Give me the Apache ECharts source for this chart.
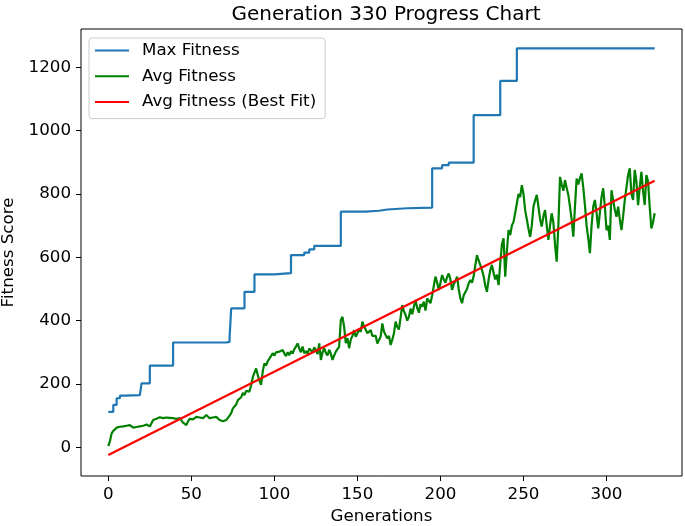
<!DOCTYPE html>
<html>
<head>
<meta charset="utf-8">
<script src="https://cdn.jsdelivr.net/npm/echarts@6/dist/echarts.min.js"></script>
<style>html,body{margin:0;padding:0;background:#fff;}#c{width:685px;height:526px;}</style>
</head>
<body>
<div id="c"></div>
<script>
var titleText = "Generation 330 Progress Chart";
var xTicks = [0, 50, 100, 150, 200, 250, 300];
var yTicks = [0, 200, 400, 600, 800, 1000, 1200];

// Max Fitness: generation where a new value starts, and that value
var maxGen = [0, 3, 5, 7, 10, 19, 20, 25, 39, 71, 73, 74, 82, 88, 100, 110, 118, 121, 124, 140, 155, 163, 168, 180, 195, 201, 205, 220, 236, 246, 329];
var maxVal = [112, 134, 155, 163, 165, 167, 202, 258, 331, 333, 344, 439, 491, 546, 550, 607, 615, 625, 636, 744, 747, 751, 755, 757, 881, 891, 899, 1049, 1157, 1260, 1260];

// Avg Fitness per generation (0..329)
var avgVal = [
  4, 20, 44, 52, 58, 62, 60, 65, 62, 66,
  63, 68, 64, 70, 66, 62, 67, 64, 70, 66,
  63, 68, 65, 72, 68, 66, 76, 86, 84, 90,
  92, 95, 97, 92, 96, 94, 98, 93, 96, 92,
  95, 90, 84, 92, 88, 78, 74, 70, 82, 90,
  94, 88, 92, 96, 90, 94, 100, 92, 95, 102,
  96, 92, 98, 94, 90, 96, 92, 86, 84, 82,
  81, 86, 92, 100, 108, 123, 120, 135, 149, 146,
  158, 172, 165, 178, 181, 176, 196, 222, 236, 249,
  228, 210, 197, 240, 265, 258, 272, 280, 286, 297,
  290, 300, 294, 302, 298, 307, 296, 288, 300, 291,
  304, 296, 310, 318, 328, 312, 300, 318, 297, 304,
  296, 312, 307, 300, 316, 308, 294, 328, 276, 300,
  313, 298, 290, 308, 295, 276, 290, 302, 296, 318,
  402, 412, 380, 329, 345, 313, 340, 352, 370, 349,
  360, 372, 365, 397, 381, 372, 360, 365, 370, 352,
  346, 352, 328, 333, 350, 391, 365, 370, 344, 352,
  323, 340, 360, 397, 380, 372, 410, 449, 430, 418,
  400, 412, 438, 420, 444, 465, 440, 425, 452, 444,
  460, 432, 470, 476, 455, 480, 510, 539, 520, 497,
  520, 544, 530, 520, 538, 549, 530, 497, 515, 525,
  539, 500, 470, 455, 480, 476, 500, 518, 528, 520,
  540, 575, 607, 590, 575, 560, 540, 510, 491, 530,
  560, 576, 550, 530, 545, 512, 580, 640, 660, 539,
  620, 686, 670, 700, 712, 740, 770, 800, 790, 828,
  800, 749, 720, 690, 665, 700, 760, 780, 797, 760,
  720, 697, 730, 749, 700, 655, 700, 739, 710, 640,
  586, 700, 854, 830, 810, 844, 820, 797, 760, 720,
  665, 760, 849, 830, 850, 865, 820, 765, 700, 660,
  613, 700, 760, 781, 740, 691, 740, 790, 818, 760,
  686, 700, 655, 812, 780, 750, 728, 760, 720, 686,
  730, 781, 820, 860, 881, 800, 781, 876, 840, 765,
  820, 870, 810, 765, 860, 840, 760, 691, 710, 739
];

// Best fit line endpoints
var fitGen = [0, 329];
var fitVal = [-24, 842];

function pairs(xs, ys) { return xs.map(function (x, i) { return [x, ys[i]]; }); }
var avgData = avgVal.map(function (v, i) { return [i, v]; });

var FONT = "DejaVu Sans";
var FS = 16.7;
var chart = echarts.init(document.getElementById('c'), null, { renderer: 'canvas' });
chart.setOption({
  animation: false,
  backgroundColor: '#ffffff',
  title: {
    text: titleText,
    left: 381, top: 0, textAlign: 'center',
    textStyle: { fontFamily: FONT, fontSize: 20, fontWeight: 'normal', color: '#000' }
  },
  legend: {
    orient: 'vertical',
    left: 89, top: 38,
    padding: [4, 9, 8, 6],
    itemGap: 8.8,
    itemWidth: 34, itemHeight: 2,
    icon: 'rect',
    backgroundColor: 'rgba(255,255,255,0.8)',
    borderColor: '#cccccc', borderWidth: 1, borderRadius: 3,
    textStyle: { fontFamily: FONT, fontSize: FS, color: '#000', lineHeight: 17, padding: [0, 0, 0, 8] },
    data: ['Max Fitness', 'Avg Fitness', 'Avg Fitness (Best Fit)']
  },
  grid: {
    left: 81, top: 29, width: 601, height: 447,
    containLabel: false, outerBoundsMode: 'none',
    show: true, borderColor: '#000', borderWidth: 1, backgroundColor: 'transparent'
  },
  xAxis: {
    type: 'value', min: -16.45, max: 345.45,
    name: 'Generations', nameLocation: 'middle', nameGap: 32,
    nameTextStyle: { fontFamily: FONT, fontSize: FS, color: '#000' },
    axisLine: { show: false, onZero: false },
    splitLine: { show: false },
    axisTick: { show: true, length: 5, lineStyle: { color: '#000', width: 1 }, customValues: xTicks },
    axisLabel: { fontFamily: FONT, fontSize: FS, color: '#000', margin: 10, customValues: xTicks,
      formatter: function (v) { return String(v); } }
  },
  yAxis: {
    type: 'value', min: -90.6, max: 1321,
    name: 'Fitness Score', nameLocation: 'middle', nameGap: 59,
    nameTextStyle: { fontFamily: FONT, fontSize: FS, color: '#000' },
    axisLine: { show: false, onZero: false },
    splitLine: { show: false },
    axisTick: { show: true, length: 5, lineStyle: { color: '#000', width: 1 }, customValues: yTicks },
    axisLabel: { fontFamily: FONT, fontSize: FS, color: '#000', margin: 10, customValues: yTicks,
      formatter: function (v) { return String(v); } }
  },
  series: [
    {
      name: 'Max Fitness', type: 'line', step: 'end',
      data: pairs(maxGen, maxVal), showSymbol: false, symbol: 'none',
      lineStyle: { color: '#1f77b4', width: 2.2 }, itemStyle: { color: '#1f77b4' }
    },
    {
      name: 'Avg Fitness', type: 'line',
      data: avgData, showSymbol: false, symbol: 'none',
      lineStyle: { color: '#008000', width: 2.2 }, itemStyle: { color: '#008000' }
    },
    {
      name: 'Avg Fitness (Best Fit)', type: 'line',
      data: pairs(fitGen, fitVal), showSymbol: false, symbol: 'none',
      lineStyle: { color: '#ff0000', width: 2.2 }, itemStyle: { color: '#ff0000' }
    }
  ]
});
</script>
</body>
</html>
